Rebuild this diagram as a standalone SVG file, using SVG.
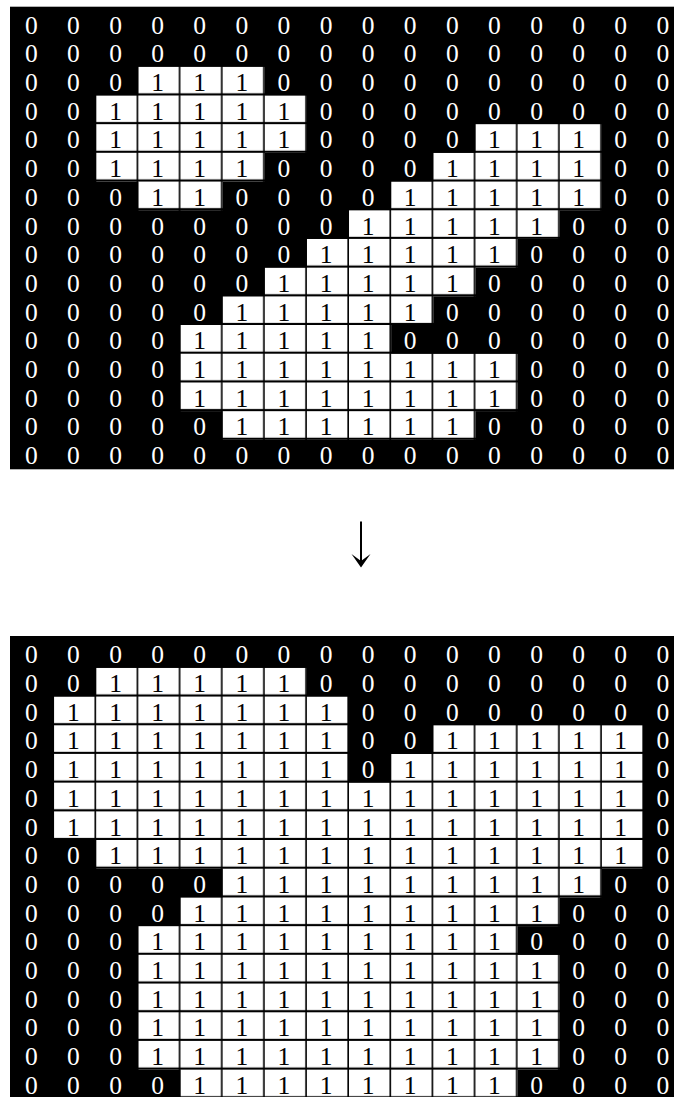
<svg xmlns="http://www.w3.org/2000/svg" width="674" height="1097" viewBox="0 0 674 1097">
<style>
.bg{fill:#000}
.run{fill:url(#cell)}
.t{font-family:"Liberation Serif","Times New Roman",serif;font-size:25.5px;fill:#fff;text-anchor:middle}
.t .b{fill:#000}
.conn{stroke:#000;stroke-width:2;fill:none}
.head{fill:#000}
</style>
<defs>
<pattern id="cell" patternUnits="userSpaceOnUse" x="11.9" y="9.3" width="42.14" height="28.7">
<rect x="0" y="0" width="40.5" height="26.6" fill="#fff"/>
</pattern>
</defs>
<rect x="0" y="0" width="674" height="1097" fill="#fff"/>
<g id="grid-top">
<rect class="bg" x="10" y="6.7" width="664" height="462.6"/>
<rect class="run" x="138.32" y="66.7" width="126.42" height="28.7"/>
<rect class="run" x="96.18" y="95.4" width="210.7" height="28.7"/>
<rect class="run" x="96.18" y="124.1" width="210.7" height="28.7"/>
<rect class="run" x="475.44" y="124.1" width="126.42" height="28.7"/>
<rect class="run" x="96.18" y="152.8" width="168.56" height="28.7"/>
<rect class="run" x="433.3" y="152.8" width="168.56" height="28.7"/>
<rect class="run" x="138.32" y="181.5" width="84.28" height="28.7"/>
<rect class="run" x="391.16" y="181.5" width="210.7" height="28.7"/>
<rect class="run" x="349.02" y="210.2" width="210.7" height="28.7"/>
<rect class="run" x="306.88" y="238.9" width="210.7" height="28.7"/>
<rect class="run" x="264.74" y="267.6" width="210.7" height="28.7"/>
<rect class="run" x="222.6" y="296.3" width="210.7" height="28.7"/>
<rect class="run" x="180.46" y="325" width="210.7" height="28.7"/>
<rect class="run" x="180.46" y="353.7" width="337.12" height="28.7"/>
<rect class="run" x="180.46" y="382.4" width="337.12" height="28.7"/>
<rect class="run" x="222.6" y="411.1" width="252.84" height="28.7"/>
<text class="t" x="31.3 73.4 115.5 157.6 199.7 241.8 283.9 326 368.1 410.2 452.3 494.4 536.5 578.6 620.7 662.8" y="33.6">0000000000000000</text>
<text class="t" x="31.3 73.4 115.5 157.6 199.7 241.8 283.9 326 368.1 410.2 452.3 494.4 536.5 578.6 620.7 662.8" y="62.3">0000000000000000</text>
<text class="t" x="31.3 73.4 115.5 157.6 199.7 241.8 283.9 326 368.1 410.2 452.3 494.4 536.5 578.6 620.7 662.8" y="91">000<tspan class="b">111</tspan>0000000000</text>
<text class="t" x="31.3 73.4 115.5 157.6 199.7 241.8 283.9 326 368.1 410.2 452.3 494.4 536.5 578.6 620.7 662.8" y="119.7">00<tspan class="b">11111</tspan>000000000</text>
<text class="t" x="31.3 73.4 115.5 157.6 199.7 241.8 283.9 326 368.1 410.2 452.3 494.4 536.5 578.6 620.7 662.8" y="148.4">00<tspan class="b">11111</tspan>0000<tspan class="b">111</tspan>00</text>
<text class="t" x="31.3 73.4 115.5 157.6 199.7 241.8 283.9 326 368.1 410.2 452.3 494.4 536.5 578.6 620.7 662.8" y="177.1">00<tspan class="b">1111</tspan>0000<tspan class="b">1111</tspan>00</text>
<text class="t" x="31.3 73.4 115.5 157.6 199.7 241.8 283.9 326 368.1 410.2 452.3 494.4 536.5 578.6 620.7 662.8" y="205.8">000<tspan class="b">11</tspan>0000<tspan class="b">11111</tspan>00</text>
<text class="t" x="31.3 73.4 115.5 157.6 199.7 241.8 283.9 326 368.1 410.2 452.3 494.4 536.5 578.6 620.7 662.8" y="234.5">00000000<tspan class="b">11111</tspan>000</text>
<text class="t" x="31.3 73.4 115.5 157.6 199.7 241.8 283.9 326 368.1 410.2 452.3 494.4 536.5 578.6 620.7 662.8" y="263.2">0000000<tspan class="b">11111</tspan>0000</text>
<text class="t" x="31.3 73.4 115.5 157.6 199.7 241.8 283.9 326 368.1 410.2 452.3 494.4 536.5 578.6 620.7 662.8" y="291.9">000000<tspan class="b">11111</tspan>00000</text>
<text class="t" x="31.3 73.4 115.5 157.6 199.7 241.8 283.9 326 368.1 410.2 452.3 494.4 536.5 578.6 620.7 662.8" y="320.6">00000<tspan class="b">11111</tspan>000000</text>
<text class="t" x="31.3 73.4 115.5 157.6 199.7 241.8 283.9 326 368.1 410.2 452.3 494.4 536.5 578.6 620.7 662.8" y="349.3">0000<tspan class="b">11111</tspan>0000000</text>
<text class="t" x="31.3 73.4 115.5 157.6 199.7 241.8 283.9 326 368.1 410.2 452.3 494.4 536.5 578.6 620.7 662.8" y="378">0000<tspan class="b">11111111</tspan>0000</text>
<text class="t" x="31.3 73.4 115.5 157.6 199.7 241.8 283.9 326 368.1 410.2 452.3 494.4 536.5 578.6 620.7 662.8" y="406.7">0000<tspan class="b">11111111</tspan>0000</text>
<text class="t" x="31.3 73.4 115.5 157.6 199.7 241.8 283.9 326 368.1 410.2 452.3 494.4 536.5 578.6 620.7 662.8" y="435.4">00000<tspan class="b">111111</tspan>00000</text>
<text class="t" x="31.3 73.4 115.5 157.6 199.7 241.8 283.9 326 368.1 410.2 452.3 494.4 536.5 578.6 620.7 662.8" y="464.1">0000000000000000</text>
</g>
<g id="connectors">
<line class="conn" x1="361" y1="521.5" x2="361" y2="562"/>
<polygon class="head" points="351.5,554 361,561 370.5,554 361,567.5"/>
</g>
<g id="grid-bottom" transform="translate(0,629.8)">
<rect class="bg" x="10" y="6.2" width="664" height="470"/>
<rect class="run" x="96.18" y="38" width="210.7" height="28.7"/>
<rect class="run" x="54.04" y="66.7" width="294.98" height="28.7"/>
<rect class="run" x="54.04" y="95.4" width="294.98" height="28.7"/>
<rect class="run" x="433.3" y="95.4" width="210.7" height="28.7"/>
<rect class="run" x="54.04" y="124.1" width="294.98" height="28.7"/>
<rect class="run" x="391.16" y="124.1" width="252.84" height="28.7"/>
<rect class="run" x="54.04" y="152.8" width="589.96" height="28.7"/>
<rect class="run" x="54.04" y="181.5" width="589.96" height="28.7"/>
<rect class="run" x="96.18" y="210.2" width="547.82" height="28.7"/>
<rect class="run" x="222.6" y="238.9" width="379.26" height="28.7"/>
<rect class="run" x="180.46" y="267.6" width="379.26" height="28.7"/>
<rect class="run" x="138.32" y="296.3" width="379.26" height="28.7"/>
<rect class="run" x="138.32" y="325" width="421.4" height="28.7"/>
<rect class="run" x="138.32" y="353.7" width="421.4" height="28.7"/>
<rect class="run" x="138.32" y="382.4" width="421.4" height="28.7"/>
<rect class="run" x="138.32" y="411.1" width="421.4" height="28.7"/>
<rect class="run" x="180.46" y="439.8" width="337.12" height="28.7"/>
<text class="t" x="31.3 73.4 115.5 157.6 199.7 241.8 283.9 326 368.1 410.2 452.3 494.4 536.5 578.6 620.7 662.8" y="33.6">0000000000000000</text>
<text class="t" x="31.3 73.4 115.5 157.6 199.7 241.8 283.9 326 368.1 410.2 452.3 494.4 536.5 578.6 620.7 662.8" y="62.3">00<tspan class="b">11111</tspan>000000000</text>
<text class="t" x="31.3 73.4 115.5 157.6 199.7 241.8 283.9 326 368.1 410.2 452.3 494.4 536.5 578.6 620.7 662.8" y="91">0<tspan class="b">1111111</tspan>00000000</text>
<text class="t" x="31.3 73.4 115.5 157.6 199.7 241.8 283.9 326 368.1 410.2 452.3 494.4 536.5 578.6 620.7 662.8" y="119.7">0<tspan class="b">1111111</tspan>00<tspan class="b">11111</tspan>0</text>
<text class="t" x="31.3 73.4 115.5 157.6 199.7 241.8 283.9 326 368.1 410.2 452.3 494.4 536.5 578.6 620.7 662.8" y="148.4">0<tspan class="b">1111111</tspan>0<tspan class="b">111111</tspan>0</text>
<text class="t" x="31.3 73.4 115.5 157.6 199.7 241.8 283.9 326 368.1 410.2 452.3 494.4 536.5 578.6 620.7 662.8" y="177.1">0<tspan class="b">11111111111111</tspan>0</text>
<text class="t" x="31.3 73.4 115.5 157.6 199.7 241.8 283.9 326 368.1 410.2 452.3 494.4 536.5 578.6 620.7 662.8" y="205.8">0<tspan class="b">11111111111111</tspan>0</text>
<text class="t" x="31.3 73.4 115.5 157.6 199.7 241.8 283.9 326 368.1 410.2 452.3 494.4 536.5 578.6 620.7 662.8" y="234.5">00<tspan class="b">1111111111111</tspan>0</text>
<text class="t" x="31.3 73.4 115.5 157.6 199.7 241.8 283.9 326 368.1 410.2 452.3 494.4 536.5 578.6 620.7 662.8" y="263.2">00000<tspan class="b">111111111</tspan>00</text>
<text class="t" x="31.3 73.4 115.5 157.6 199.7 241.8 283.9 326 368.1 410.2 452.3 494.4 536.5 578.6 620.7 662.8" y="291.9">0000<tspan class="b">111111111</tspan>000</text>
<text class="t" x="31.3 73.4 115.5 157.6 199.7 241.8 283.9 326 368.1 410.2 452.3 494.4 536.5 578.6 620.7 662.8" y="320.6">000<tspan class="b">111111111</tspan>0000</text>
<text class="t" x="31.3 73.4 115.5 157.6 199.7 241.8 283.9 326 368.1 410.2 452.3 494.4 536.5 578.6 620.7 662.8" y="349.3">000<tspan class="b">1111111111</tspan>000</text>
<text class="t" x="31.3 73.4 115.5 157.6 199.7 241.8 283.9 326 368.1 410.2 452.3 494.4 536.5 578.6 620.7 662.8" y="378">000<tspan class="b">1111111111</tspan>000</text>
<text class="t" x="31.3 73.4 115.5 157.6 199.7 241.8 283.9 326 368.1 410.2 452.3 494.4 536.5 578.6 620.7 662.8" y="406.7">000<tspan class="b">1111111111</tspan>000</text>
<text class="t" x="31.3 73.4 115.5 157.6 199.7 241.8 283.9 326 368.1 410.2 452.3 494.4 536.5 578.6 620.7 662.8" y="435.4">000<tspan class="b">1111111111</tspan>000</text>
<text class="t" x="31.3 73.4 115.5 157.6 199.7 241.8 283.9 326 368.1 410.2 452.3 494.4 536.5 578.6 620.7 662.8" y="464.1">0000<tspan class="b">11111111</tspan>0000</text>
</g>
</svg>
